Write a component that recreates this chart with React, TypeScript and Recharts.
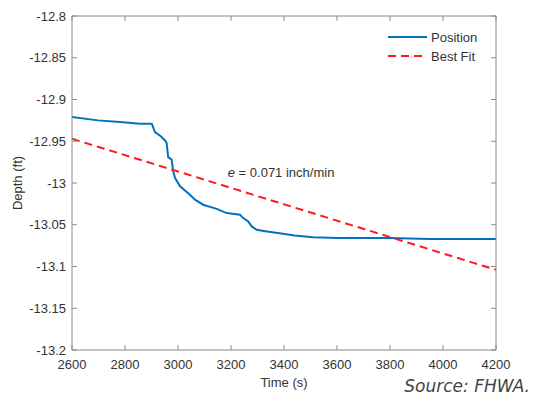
import React from "react";
import { LineChart, Line, XAxis, YAxis, ReferenceDot } from "recharts";

const TIME = [
  2600, 2698, 2781, 2857, 2901, 2913, 2935, 2951, 2957, 2963, 2976, 2982, 2989,
  3008, 3045, 3064, 3095, 3146, 3184, 3234, 3246, 3265, 3278, 3297, 3335, 3377,
  3440, 3509, 3600, 3687, 3800, 3950, 4100, 4200,
];
const DEPTH = [
  -12.921, -12.925, -12.927, -12.929, -12.929, -12.939, -12.944, -12.949, -12.952,
  -12.969, -12.972, -12.986, -12.994, -13.004, -13.014, -13.02, -13.026, -13.031,
  -13.036, -13.038, -13.042, -13.046, -13.052, -13.056, -13.058, -13.06, -13.063,
  -13.065, -13.066, -13.066, -13.066, -13.067, -13.067, -13.067,
];

// Linear best fit end points
const FIT_TIME = [2600, 4200];
const FIT_DEPTH = [-12.947, -13.104];

const X_TICKS = [2600, 2800, 3000, 3200, 3400, 3600, 3800, 4000, 4200];
const Y_TICKS = [-13.2, -13.15, -13.1, -13.05, -13, -12.95, -12.9, -12.85, -12.8];

const NOTE_AT = { t: 3389, depth: -12.987 };

const SERIES = [
  { name: "Position", color: "#0072BD", dash: undefined as string | undefined },
  { name: "Best Fit", color: "#FF1A1A", dash: "8 5" },
];

const AXIS = "#8a8a8a";
const INK = "#333333";
const FONT = "'Liberation Sans', Arial, sans-serif";

const position = TIME.map((t, i) => ({ t, depth: DEPTH[i] }));
const fit = FIT_TIME.map((t, i) => ({ t, depth: FIT_DEPTH[i] }));

const fmtDepth = (v: number) => String(parseFloat(v.toFixed(2)));

function LegendBox() {
  return (
    <svg width={110} height={44} style={{ display: "block" }}>
      {SERIES.map((s, i) => (
        <g key={s.name}>
          <line
            x1={3}
            x2={42}
            y1={9 + i * 19}
            y2={9 + i * 19}
            stroke={s.color}
            strokeWidth={2}
            strokeDasharray={s.dash}
          />
          <text x={46} y={9 + i * 19} dominantBaseline="central" fontSize={13} fill={INK} fontFamily={FONT}>
            {s.name}
          </text>
        </g>
      ))}
    </svg>
  );
}

export default function App() {
  return (
    <div style={{ position: "absolute", left: 0, top: 0, width: 534, height: 403, background: "#fff" }}>
      <LineChart width={534} height={403} margin={{ top: 15, right: 37, left: 12, bottom: 23 }}>
        <XAxis
          xAxisId="b"
          dataKey="t"
          type="number"
          domain={[2600, 4200]}
          ticks={X_TICKS}
          allowDataOverflow
          height={30}
          stroke={AXIS}
          tickSize={-5}
          tickMargin={15}
          tick={{ fontSize: 13, fill: INK, fontFamily: FONT }}
          label={{
            content: (p: any) => {
              const vb = p.viewBox;
              return (
                <text x={vb.x + vb.width / 2} y={vb.y + 37} textAnchor="middle" fontSize={13} fill={INK} fontFamily={FONT}>
                  Time (s)
                </text>
              );
            },
          }}
        />
        <XAxis
          xAxisId="top"
          orientation="top"
          dataKey="t"
          type="number"
          domain={[2600, 4200]}
          ticks={X_TICKS}
          allowDataOverflow
          height={1}
          stroke={AXIS}
          tickSize={-5}
          tickFormatter={() => ""}
        />
        <YAxis
          yAxisId="l"
          type="number"
          domain={[-13.2, -12.8]}
          ticks={Y_TICKS}
          allowDataOverflow
          width={60}
          stroke={AXIS}
          tickSize={-5}
          tickMargin={11}
          tickFormatter={fmtDepth}
          tick={{ fontSize: 13, fill: INK, fontFamily: FONT }}
          label={{
            content: (p: any) => {
              const vb = p.viewBox;
              const cx = vb.x + 10;
              const cy = vb.y + vb.height / 2;
              return (
                <text x={cx} y={cy} transform={`rotate(-90 ${cx} ${cy})`} textAnchor="middle" fontSize={13} fill={INK} fontFamily={FONT}>
                  Depth (ft)
                </text>
              );
            },
          }}
        />
        <YAxis
          yAxisId="r"
          orientation="right"
          type="number"
          domain={[-13.2, -12.8]}
          ticks={Y_TICKS}
          allowDataOverflow
          width={1}
          stroke={AXIS}
          tickSize={-5}
          tickFormatter={() => ""}
        />
        <Line
          xAxisId="b"
          yAxisId="l"
          data={position}
          dataKey="depth"
          name={SERIES[0].name}
          type="linear"
          stroke={SERIES[0].color}
          strokeWidth={2}
          dot={false}
          isAnimationActive={false}
        />
        <Line
          xAxisId="b"
          yAxisId="l"
          data={fit}
          dataKey="depth"
          name={SERIES[1].name}
          type="linear"
          stroke={SERIES[1].color}
          strokeWidth={2}
          strokeDasharray={SERIES[1].dash}
          dot={false}
          isAnimationActive={false}
        />
        <ReferenceDot
          xAxisId="b"
          yAxisId="l"
          x={NOTE_AT.t}
          y={NOTE_AT.depth}
          r={0}
          fill="none"
          stroke="none"
          label={{
            content: (p: any) => {
              const vb = p.viewBox;
              return (
                <text x={vb.x + vb.width / 2} y={vb.y + vb.height / 2} textAnchor="middle" dominantBaseline="central" fontSize={13} fill={INK} fontFamily={FONT}>
                  <tspan fontStyle="italic">e</tspan> = 0.071 inch/min
                </text>
              );
            },
          }}
        />
      </LineChart>
      <div style={{ position: "absolute", left: 385, top: 28 }}>
        <LegendBox />
      </div>
      <div
        style={{
          position: "absolute",
          right: 4,
          top: 376,
          fontFamily: "'DejaVu Sans', sans-serif",
          fontStyle: "italic",
          fontSize: 17,
          color: "#444",
          whiteSpace: "nowrap",
        }}
      >
        Source: FHWA.
      </div>
    </div>
  );
}
